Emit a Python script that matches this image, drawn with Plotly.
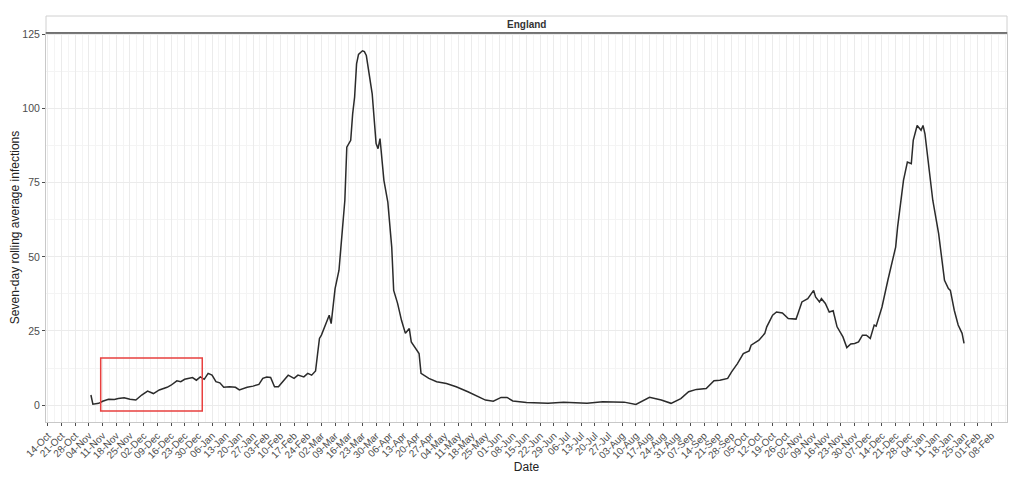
import plotly.graph_objects as go
import pandas as pd

# ---- data ----
dates = [
    "2019-11-05", "2019-11-06", "2019-11-09", "2019-11-11", "2019-11-14", "2019-11-17",
    "2019-11-19", "2019-11-22", "2019-11-25", "2019-11-28", "2019-12-01", "2019-12-04",
    "2019-12-07", "2019-12-10", "2019-12-14", "2019-12-16", "2019-12-19", "2019-12-21",
    "2019-12-23", "2019-12-26", "2019-12-27", "2019-12-29", "2019-12-31", "2020-01-02",
    "2020-01-04", "2020-01-06", "2020-01-08", "2020-01-10", "2020-01-12", "2020-01-15",
    "2020-01-18", "2020-01-20", "2020-01-24", "2020-01-27", "2020-01-30", "2020-02-01",
    "2020-02-03", "2020-02-05", "2020-02-07", "2020-02-09", "2020-02-12", "2020-02-14",
    "2020-02-17", "2020-02-19", "2020-02-22", "2020-02-24", "2020-02-26", "2020-02-28",
    "2020-02-29", "2020-03-01", "2020-03-02", "2020-03-03", "2020-03-05", "2020-03-06",
    "2020-03-07", "2020-03-09", "2020-03-11", "2020-03-12", "2020-03-14", "2020-03-15",
    "2020-03-17", "2020-03-18", "2020-03-19", "2020-03-20", "2020-03-21", "2020-03-23",
    "2020-03-24", "2020-03-25", "2020-03-27", "2020-03-28", "2020-03-30", "2020-03-31",
    "2020-04-01", "2020-04-03", "2020-04-05", "2020-04-07", "2020-04-08", "2020-04-10",
    "2020-04-12", "2020-04-14", "2020-04-16", "2020-04-17", "2020-04-21", "2020-04-22",
    "2020-04-26", "2020-04-30", "2020-05-05", "2020-05-10", "2020-05-16", "2020-05-21",
    "2020-05-25", "2020-05-29", "2020-06-02", "2020-06-05", "2020-06-08", "2020-06-15",
    "2020-06-26", "2020-07-04", "2020-07-16", "2020-07-24", "2020-08-04", "2020-08-10",
    "2020-08-14", "2020-08-17", "2020-08-23", "2020-08-28", "2020-09-02", "2020-09-06",
    "2020-09-10", "2020-09-15", "2020-09-19", "2020-09-22", "2020-09-26", "2020-09-28",
    "2020-10-01", "2020-10-04", "2020-10-07", "2020-10-08", "2020-10-12", "2020-10-15",
    "2020-10-16", "2020-10-19", "2020-10-21", "2020-10-24", "2020-10-27", "2020-10-29",
    "2020-10-31", "2020-11-01", "2020-11-03", "2020-11-06", "2020-11-09", "2020-11-10",
    "2020-11-12", "2020-11-13", "2020-11-15", "2020-11-17", "2020-11-19", "2020-11-21",
    "2020-11-24", "2020-11-26", "2020-11-28", "2020-11-30", "2020-12-02", "2020-12-04",
    "2020-12-06", "2020-12-08", "2020-12-10", "2020-12-11", "2020-12-14", "2020-12-17",
    "2020-12-20", "2020-12-21", "2020-12-22", "2020-12-24", "2020-12-25", "2020-12-27",
    "2020-12-29", "2020-12-30", "2021-01-01", "2021-01-03", "2021-01-04", "2021-01-05",
    "2021-01-07", "2021-01-09", "2021-01-12", "2021-01-14", "2021-01-15", "2021-01-17",
    "2021-01-18", "2021-01-20", "2021-01-22", "2021-01-24", "2021-01-25",
]
infections = [
    3.4, 0.3, 0.6, 1.3, 2.0, 1.9,
    2.2, 2.5, 2.0, 1.7, 3.4, 4.7,
    3.9, 5.1, 6.0, 6.7, 8.2, 7.9,
    8.7, 9.0, 9.3, 8.4, 9.5, 8.7,
    10.7, 10.1, 7.9, 7.5, 6.0, 6.2,
    6.0, 5.1, 6.0, 6.4, 7.0, 9.0,
    9.5, 9.3, 6.2, 6.2, 8.4, 10.1,
    9.0, 10.1, 9.5, 10.7, 10.1, 11.5,
    17.0, 22.5, 23.6, 25.3, 28.6, 30.3,
    27.5, 39.3, 45.5, 53.3, 69.1, 87.0,
    89.3, 98.2, 103.9, 115.1, 118.3, 119.5,
    119.2, 117.9, 109.5, 105.0, 88.2, 86.5,
    89.9, 75.8, 68.5, 53.3, 38.7, 34.3,
    28.6, 24.2, 25.8, 21.3, 17.4, 10.7,
    9.0, 7.9, 7.3, 6.2, 4.5, 2.8,
    1.7, 1.3, 2.6, 2.6, 1.4, 0.9,
    0.6, 1.0, 0.6, 1.1, 1.0, 0.2,
    1.7, 2.6, 1.7, 0.6, 2.2, 4.5,
    5.3, 5.6, 8.2, 8.4, 9.0, 11.2,
    14.0, 17.4, 18.3, 20.2, 21.9, 24.2,
    26.4, 30.3, 31.4, 31.1, 29.2, 29.2,
    29.0, 30.9, 34.8, 35.9, 38.7, 36.5,
    34.8, 35.9, 34.3, 31.4, 31.8, 26.4,
    23.0, 19.4, 20.6, 20.8, 21.3, 23.6,
    23.6, 22.5, 27.0, 26.6, 33.1, 42.1,
    51.1, 53.3, 60.1, 70.2, 75.8, 82.0,
    81.4, 89.3, 94.3, 92.7, 94.3, 91.5,
    80.3, 69.1, 57.8, 47.7, 42.1, 39.3,
    38.7, 32.0, 27.0, 24.2, 20.8,
]
y_ticks = [0, 25, 50, 75, 100, 125]
x_tick_first = "2019-10-14"
x_tick_last = "2021-02-08"
facet_label = "England"
x_title = "Date"
y_title = "Seven-day rolling average infections"
x_range = ["2019-10-13", "2021-02-16"]
y_range = [-5.7, 125.5]
# highlighted region (red box overlay in the reference)
box_x = ["2019-11-10", "2020-01-01"]
box_y = [-2.0, 15.9]

x_tickvals = pd.date_range(x_tick_first, x_tick_last, freq="7D")
x_ticktext = [d.strftime("%d-%b") for d in x_tickvals]

DAY = 86400000
grid = "#ebebeb"
minor_grid = "#f4f4f4"
tickcol = "#4d4d4d"

# page body has an 8px default margin, so the figure is sized to fit the window
W, H = 1016, 477
M = dict(l=38, r=17, t=25, b=63)

fig = go.Figure()
fig.add_trace(go.Scatter(
    x=dates, y=infections, mode="lines",
    line=dict(color="#2b2b2b", width=1.5),
    showlegend=False, hoverinfo="skip",
))

fig.add_shape(type="rect", xref="x", yref="y",
              x0=box_x[0], x1=box_x[1], y0=box_y[0], y1=box_y[1],
              line=dict(color="#e8403f", width=1.5), fillcolor="rgba(0,0,0,0)")

# facet strip
plot_h = H - M["t"] - M["b"]
strip_h = 17 / plot_h
fig.add_shape(type="rect", xref="paper", yref="paper", x0=0, x1=1, y0=1, y1=1 + strip_h,
              line=dict(color="#d0d0d0", width=1), fillcolor="white", layer="below")
fig.add_shape(type="line", xref="paper", yref="paper", x0=0, x1=1, y0=1, y1=1,
              line=dict(color="#555555", width=1.5))
fig.add_annotation(text="<b>" + facet_label + "</b>", xref="paper", yref="paper",
                   x=0.5, y=1 + strip_h / 2, showarrow=False,
                   font=dict(size=10, color="#333333"), yanchor="middle")

fig.update_layout(
    width=W, height=H,
    margin=dict(**M, autoexpand=False),
    paper_bgcolor="white", plot_bgcolor="white",
    font=dict(family="Liberation Sans, Arial, sans-serif", color="#000000"),
)
fig.update_xaxes(
    type="date", range=x_range, automargin=False,
    tickvals=x_tickvals, ticktext=x_ticktext, tickangle=-45,
    tickfont=dict(size=10, color=tickcol),
    ticks="outside", ticklen=3, tickcolor="#4d4d4d",
    showgrid=True, gridcolor=grid, gridwidth=1,
    minor=dict(tick0=x_tick_first, dtick=3.5 * DAY, showgrid=True, gridcolor=minor_grid, gridwidth=1),
    showline=True, linecolor="#c8c8c8", mirror=True, zeroline=False,
    title=dict(text=x_title, font=dict(size=12, color="#222222"), standoff=2),
)
fig.update_yaxes(
    range=y_range, tickvals=y_ticks, automargin=False,
    tickfont=dict(size=10.5, color=tickcol),
    ticks="outside", ticklen=3, tickcolor="#4d4d4d",
    showgrid=True, gridcolor=grid, gridwidth=1,
    minor=dict(dtick=12.5, tick0=12.5, showgrid=True, gridcolor=minor_grid, gridwidth=1),
    showline=True, linecolor="#c8c8c8", mirror=True, zeroline=False,
    title=dict(text=y_title, font=dict(size=12, color="#222222"), standoff=0),
)

fig.write_html("out.html")
